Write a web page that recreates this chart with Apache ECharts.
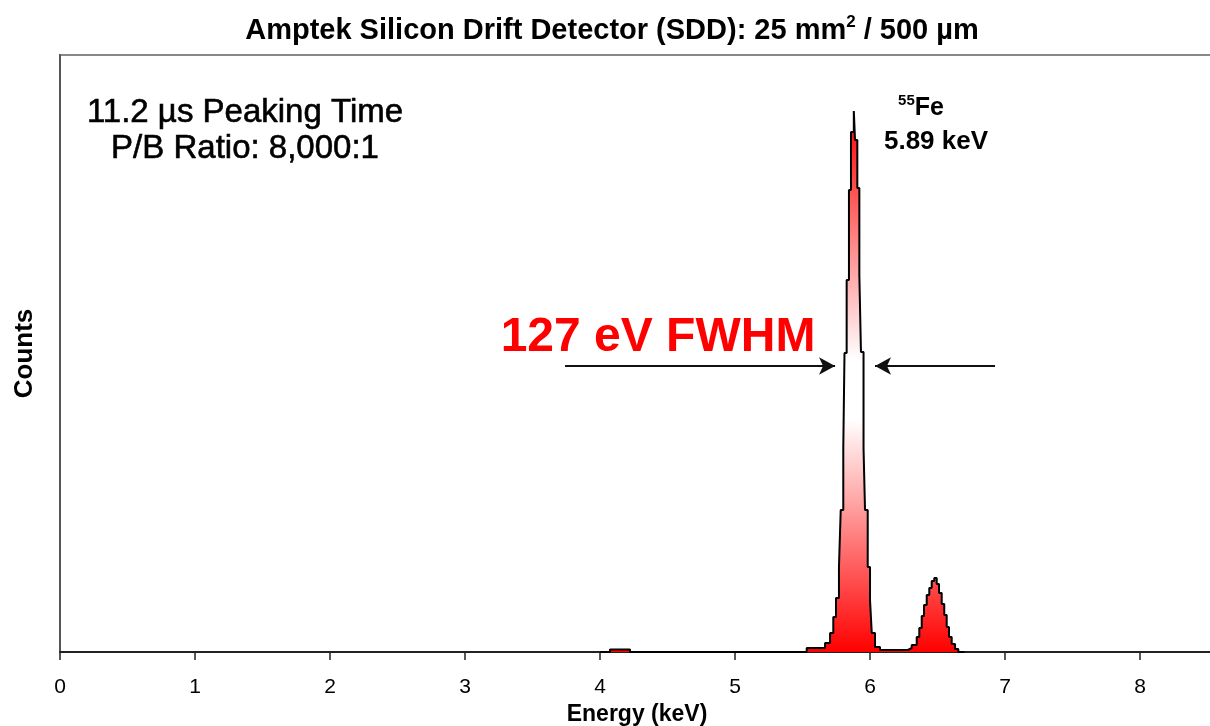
<!DOCTYPE html>
<html>
<head>
<meta charset="utf-8">
<script src="https://cdn.jsdelivr.net/npm/echarts@6/dist/echarts.min.js"></script>
<style>
html,body{margin:0;padding:0;background:#fff;}
#chart{width:1210px;height:726px;}
</style>
</head>
<body>
<div id="chart"></div>
<script>
// Step histogram: left edge of each channel (keV) and its counts
const energy = [4.000, 4.074, 4.222, 5.531, 5.667, 5.704, 5.728, 5.748, 5.770, 5.783, 5.802, 5.811, 5.827, 5.844, 5.859, 5.880, 5.889, 5.906, 5.921, 5.933, 5.952, 5.963, 5.983, 6.000, 6.013, 6.037, 6.074,
  6.281, 6.309, 6.346, 6.365, 6.383, 6.400, 6.420, 6.439, 6.457, 6.476, 6.494, 6.511, 6.531, 6.550, 6.568, 6.585, 6.605, 6.630, 6.654, 6.700];
const counts = [0, 50, 0, 80, 180, 380, 700, 1080, 1700, 2840, 4080, 5980, 7440, 9240, 10400, 10820, 10240, 9280, 7540, 6000, 4080, 2840, 1700, 1040, 380, 100, 40,
  80, 140, 300, 480, 720, 940, 1140, 1280, 1420, 1480, 1360, 1180, 960, 740, 500, 300, 160, 60, 0, 0];
const xTicks = [0, 1, 2, 3, 4, 5, 6, 7, 8];
// FWHM arrows (keV, counts)
const arrowLeft = [[3.741, 5720], [5.741, 5720]];
const arrowRight = [[6.926, 5720], [6.037, 5720]];

const FONT = '"Liberation Sans", Arial, sans-serif';
const NARROW = '"Liberation Sans Narrow", "Liberation Sans", Arial, sans-serif';
const chart = echarts.init(document.getElementById('chart'), null, {renderer: 'canvas'});
const data = energy.map((e, i) => [e, counts[i]]);

chart.setOption({
  animation: false,
  backgroundColor: '#fff',
  grid: {left: 60, top: 55, right: -4, bottom: 74, show: true, borderColor: '#888', borderWidth: 2, outerBoundsMode: 'none', containLabel: false},
  xAxis: {
    type: 'value', min: 0, max: 8.548, interval: 1,
    name: 'Energy (keV)', nameLocation: 'middle', nameGap: 50,
    nameTextStyle: {fontFamily: FONT, fontWeight: 'bold', fontSize: 23, color: '#000'},
    axisLine: {show: true, lineStyle: {color: '#222', width: 2}},
    axisTick: {show: true, length: 8, lineStyle: {color: '#222', width: 1.5}},
    axisLabel: {margin: 25, fontFamily: NARROW, fontSize: 21, color: '#000',
      formatter: v => (xTicks.indexOf(v) >= 0 ? String(v) : '')},
    splitLine: {show: false}
  },
  yAxis: {
    type: 'value', min: 0, max: 11940,
    name: 'Counts', nameLocation: 'middle', nameGap: 22, nameRotate: 90,
    nameTextStyle: {fontFamily: FONT, fontWeight: 'bold', fontSize: 26, color: '#000'},
    axisLine: {show: true, lineStyle: {color: '#555', width: 2}},
    axisTick: {show: false}, axisLabel: {show: false}, splitLine: {show: false}
  },
  series: [{
    type: 'line', step: 'end', symbol: 'none', data: data,
    lineStyle: {color: '#000', width: 2},
    areaStyle: {opacity: 1, color: new echarts.graphic.LinearGradient(0, 0, 0, 1, [
      {offset: 0, color: '#ff0000'}, {offset: 0.46, color: '#ffffff'}, {offset: 0.57, color: '#ffffff'}, {offset: 1, color: '#ff0000'}])},
    markLine: {
      silent: true, symbol: ['none', 'arrow'], symbolSize: [13, 16], label: {show: false},
      lineStyle: {color: '#111', width: 2, type: 'solid'},
      data: [
        [{coord: arrowLeft[0]}, {coord: arrowLeft[1]}],
        [{coord: arrowRight[0]}, {coord: arrowRight[1]}]
      ]
    }
  }],
  graphic: [
    {type: 'text', x: 612, y: 31, style: {text: '{t|Amptek Silicon Drift Detector (SDD): 25 mm}{sup|2}{t| / 500 µm}', align: 'center', verticalAlign: 'middle',
      font: 'bold 29px ' + FONT, fill: '#000',
      rich: {t: {fontSize: 29, fontWeight: 'bold', fontFamily: FONT, lineHeight: 34},
             sup: {fontSize: 17, fontWeight: 'bold', fontFamily: FONT, verticalAlign: 'top', lineHeight: 34, padding: [0, 0, 16, 0]}}}},
    {type: 'text', x: 245, y: 113, style: {text: '11.2 µs Peaking Time', align: 'center', verticalAlign: 'middle', font: '33px ' + FONT, fill: '#000', stroke: '#000', lineWidth: 0.6}},
    {type: 'text', x: 245, y: 149, style: {text: 'P/B Ratio: 8,000:1', align: 'center', verticalAlign: 'middle', font: '33px ' + FONT, fill: '#000', stroke: '#000', lineWidth: 0.6}},
    {type: 'text', x: 658, y: 338, style: {text: '127 eV FWHM', align: 'center', verticalAlign: 'middle', font: 'bold 48px ' + FONT, fill: '#ff0000'}},
    {type: 'text', x: 921, y: 108, style: {text: '{sup|55}{t|Fe}', align: 'center', verticalAlign: 'middle', font: 'bold 25px ' + FONT, fill: '#000',
      rich: {t: {fontSize: 25, fontWeight: 'bold', fontFamily: FONT, lineHeight: 30},
             sup: {fontSize: 15, fontWeight: 'bold', fontFamily: FONT, verticalAlign: 'top', lineHeight: 30, padding: [0, 0, 12, 0]}}}},
    {type: 'text', x: 936, y: 142, style: {text: '5.89 keV', align: 'center', verticalAlign: 'middle', font: 'bold 26px ' + FONT, fill: '#000'}}
  ]
});
</script>
</body>
</html>
